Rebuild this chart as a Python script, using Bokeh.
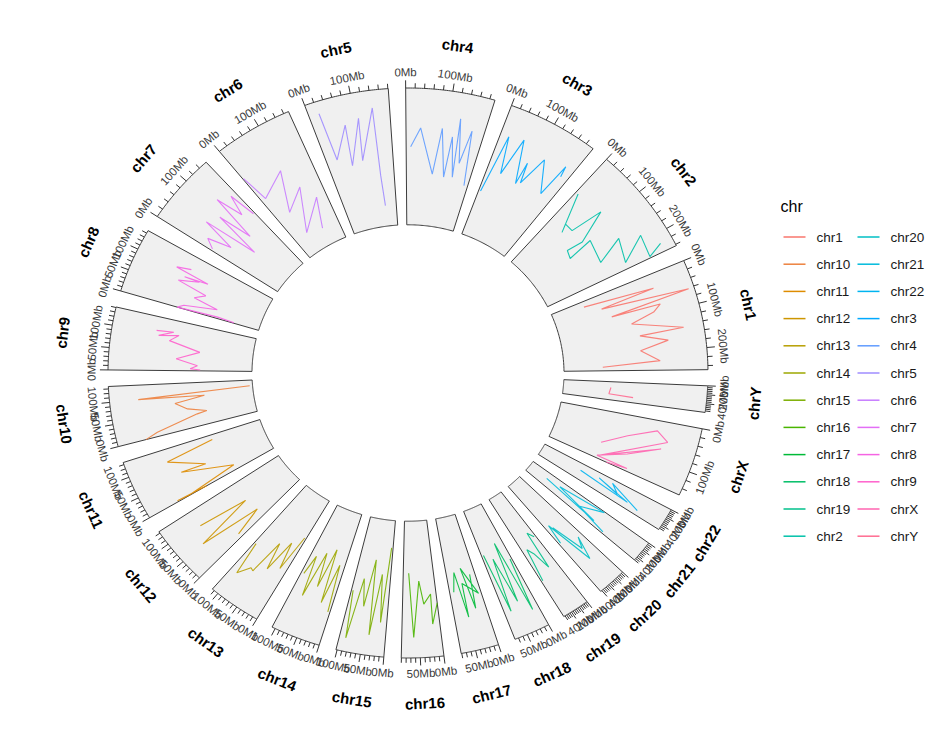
import math
from bokeh.plotting import figure
from bokeh.models import Range1d
from bokeh.core.properties import value
from bokeh.embed import file_html
from bokeh.resources import INLINE

# ---------------- data ----------------
chroms = ["chr1", "chr2", "chr3", "chr4", "chr5", "chr6", "chr7", "chr8", "chr9", "chr10",
          "chr11", "chr12", "chr13", "chr14", "chr15", "chr16", "chr17", "chr18", "chr19",
          "chr20", "chr21", "chr22", "chrX", "chrY"]
chrom_len_mb = [249.25, 243.20, 198.02, 191.15, 180.92, 171.12, 159.14, 146.36, 141.21, 135.53,
                135.01, 133.85, 115.17, 107.35, 102.53, 90.35, 81.20, 78.08, 59.13,
                63.03, 48.13, 51.30, 155.27, 59.37]
legend_levels = ["chr1", "chr10", "chr11", "chr12", "chr13", "chr14", "chr15", "chr16", "chr17",
                 "chr18", "chr19", "chr2", "chr20", "chr21", "chr22", "chr3", "chr4", "chr5",
                 "chr6", "chr7", "chr8", "chr9", "chrX", "chrY"]

chr1_pos = [19, 36, 45, 63, 78, 79, 95, 113, 147, 151, 173, 193, 224, 237]
chr1_score = [0.23, 0.73, 0.34, 0.96, 0.39, 0.74, 0.68, 0.51, 0.86, 0.55, 0.74, 0.54, 0.67, 0.27]
chr2_pos = [7, 52, 41, 68, 80, 113, 106, 132, 123, 193, 162, 226, 184, 240, 223]
chr2_score = [0.68, 0.40, 0.46, 0.46, 0.70, 0.46, 0.34, 0.32, 0.51, 0.48, 0.68, 0.63, 0.82, 0.80, 0.91]
chr3_pos = [6, 21, 40, 57, 90, 91, 101, 123, 165, 175, 180]
chr3_score = [0.34, 0.78, 0.51, 0.80, 0.49, 0.66, 0.51, 0.74, 0.52, 0.78, 0.70]
chr4_pos = [12, 36, 78, 89, 113, 117, 139, 128, 149, 161, 180]
chr4_score = [0.57, 0.71, 0.38, 0.72, 0.37, 0.67, 0.38, 0.81, 0.49, 0.74, 0.34]
chr5_pos = [23, 29, 73, 65, 107, 96, 142, 140, 142]
chr5_score = [0.91, 0.55, 0.78, 0.48, 0.81, 0.50, 0.87, 0.37, 0.15]
chr6_pos = [2, 13, 89, 44, 111, 50, 140, 107]
chr6_score = [0.74, 0.53, 0.64, 0.35, 0.47, 0.16, 0.35, 0.13]
chr7_pos = [5, 22, 38, 55, 70, 86, 100, 115, 130, 145, 155]
chr7_score = [0.55, 0.62, 0.45, 0.70, 0.30, 0.65, 0.40, 0.75, 0.55, 0.70, 0.50]
chr8_pos = [110, 100, 92, 85, 87, 70, 57, 40, 28, 10, 0, 5, 2]
chr8_score = [0.60, 0.70, 0.45, 0.62, 0.51, 0.65, 0.43, 0.50, 0.32, 0.55, 0.59, 0.30, 0.18]
chr9_pos = [105, 108, 93, 101, 83, 59, 34, 16, 6, 3]
chr9_score = [0.69, 0.57, 0.67, 0.53, 0.59, 0.37, 0.53, 0.38, 0.43, 0.36]
chr10_pos = [112, 100, 93, 79, 58, 43, 38, 11, 0]
chr10_score = [0.02, 0.80, 0.34, 0.55, 0.47, 0.34, 0.41, 0.71, 0.80]
chr11_pos = [120, 102, 58, 64, 17, 1, 3, 0]
chr11_score = [0.36, 0.71, 0.47, 0.65, 0.30, 0.68, 0.77, 0.54]
chr12_pos = [91, 71, 52, 27, 11]
chr12_score = [0.74, 0.38, 0.81, 0.36, 0.58]
chr13_pos = [5, 18, 30, 45, 58, 71, 79, 98, 110]
chr13_score = [0.32, 0.60, 0.40, 0.65, 0.45, 0.72, 0.71, 0.80, 0.55]
chr14_pos = [5, 15, 28, 40, 52, 65, 78, 90, 100]
chr14_score = [0.75, 0.40, 0.70, 0.30, 0.60, 0.35, 0.70, 0.40, 0.55]
chr15_pos = [5, 15, 25, 38, 50, 62, 75, 88, 98]
chr15_score = [0.20, 0.75, 0.40, 0.85, 0.30, 0.65, 0.45, 0.90, 0.55]
chr16_pos = [74, 63, 45, 35, 15, 17, 0]
chr16_score = [0.38, 0.85, 0.44, 0.61, 0.54, 0.76, 0.61]
chr17_pos = [70, 58, 47, 43, 7, 37, 25, 15]
chr17_score = [0.55, 0.41, 0.75, 0.50, 0.60, 0.39, 0.70, 0.45]
chr18_pos = [5, 15, 25, 38, 50, 62, 72]
chr18_score = [0.45, 0.85, 0.30, 0.75, 0.40, 0.80, 0.35]
chr19_pos = [5, 16, 23, 35, 45, 55]
chr19_score = [0.40, 0.35, 0.64, 0.50, 0.45, 0.70]
chr20_pos = [45, 26, 12, 30, 50, 58]
chr20_score = [0.43, 0.68, 0.60, 0.77, 0.40, 0.55]
chr21_pos = [22, 36, 18, 2, 30, 44]
chr21_score = [0.15, 0.60, 0.26, 0.62, 0.45, 0.70]
chr22_pos = [22, 35, 15, 30, 10, 40]
chr22_score = [0.31, 0.71, 0.45, 0.62, 0.55, 0.80]
chrX_pos = [104, 60, 27, 49, 143, 69, 110, 147, 148, 155]
chrX_score = [0.35, 0.51, 0.70, 0.79, 0.38, 0.76, 0.55, 0.36, 0.59, 0.44]
chrY_pos = [19, 40, 44]
chrY_score = [0.33, 0.32, 0.49]

series = {
    "chr1": (chr1_pos, chr1_score), "chr2": (chr2_pos, chr2_score), "chr3": (chr3_pos, chr3_score),
    "chr4": (chr4_pos, chr4_score), "chr5": (chr5_pos, chr5_score), "chr6": (chr6_pos, chr6_score),
    "chr7": (chr7_pos, chr7_score), "chr8": (chr8_pos, chr8_score), "chr9": (chr9_pos, chr9_score),
    "chr10": (chr10_pos, chr10_score), "chr11": (chr11_pos, chr11_score), "chr12": (chr12_pos, chr12_score),
    "chr13": (chr13_pos, chr13_score), "chr14": (chr14_pos, chr14_score), "chr15": (chr15_pos, chr15_score),
    "chr16": (chr16_pos, chr16_score), "chr17": (chr17_pos, chr17_score), "chr18": (chr18_pos, chr18_score),
    "chr19": (chr19_pos, chr19_score), "chr20": (chr20_pos, chr20_score), "chr21": (chr21_pos, chr21_score),
    "chr22": (chr22_pos, chr22_score), "chrX": (chrX_pos, chrX_score), "chrY": (chrY_pos, chrY_score),
}

# ---------------- layout ----------------
DEG_PER_MB = 0.0905
GAP_DEG = 3.33
START_DEG = 0.67
R_IN, R_OUT = 0.52, 1.0
FONT = "Liberation Sans"
W, H = 926, 714
CX, CY, SX, SY = 407.5, 372.5, 300.0, 285.0   # circle centre / unit size in pixels


def hcl_hex(h, c=100.0, l=65.0):
    hr = math.radians(h)
    U, V = c * math.cos(hr), c * math.sin(hr)
    Y = 100.0 * (((l + 16) / 116) ** 3 if l > 7.999592 else l / 903.3)
    u = U / (13 * l) + 0.1978398
    v = V / (13 * l) + 0.4683363
    X = 9.0 * Y * u / (4 * v)
    Z = -X / 3 - 5 * Y + 3 * Y / v

    def g(t):
        t = t / 100.0
        t = 1.055 * t ** (1 / 2.4) - 0.055 if t > 0.00304 else 12.92 * t
        return int(round(255 * min(1.0, max(0.0, t))))
    r = g(3.240479 * X - 1.537150 * Y - 0.498535 * Z)
    gg = g(-0.969256 * X + 1.875992 * Y + 0.041556 * Z)
    b = g(0.055648 * X - 0.204043 * Y + 1.057311 * Z)
    return "#%02X%02X%02X" % (r, gg, b)


n = len(legend_levels)
palette = {lev: hcl_hex(15 + i * (345.0 / (n - 1))) for i, lev in enumerate(legend_levels)}

theta0 = []
cum = 0.0
for i, L in enumerate(chrom_len_mb):
    end = START_DEG + cum * DEG_PER_MB + i * GAP_DEG
    theta0.append(end + L * DEG_PER_MB)
    cum += L


def theta(ci, pos):
    return theta0[ci] - pos * DEG_PER_MB


def xy(ang_deg, r):
    a = math.radians(ang_deg)
    return r * math.cos(a), r * math.sin(a)


def text_rot(ang_deg):
    a = ang_deg % 360
    return math.radians(a - 90 if a < 180 else a - 270)


p = figure(width=W, height=H, output_backend="svg", toolbar_location=None,
           x_range=Range1d(-CX / SX, (W - CX) / SX), y_range=Range1d((CY - H) / SY, CY / SY),
           x_axis_location=None, y_axis_location=None, min_border=0)
p.grid.visible = False
p.outline_line_color = None
p.background_fill_color = "white"

# sector backgrounds
pxs, pys = [], []
for ci, L in enumerate(chrom_len_mb):
    steps = 40
    outer = [xy(theta(ci, L * k / steps), R_OUT) for k in range(steps + 1)]
    inner = [xy(theta(ci, L * k / steps), R_IN) for k in range(steps, -1, -1)]
    pts = outer + inner + [outer[0]]
    pxs.append([q[0] for q in pts])
    pys.append([q[1] for q in pts])
p.patches(pxs, pys, fill_color="#F0F0F0", line_color="#3C3C3C", line_width=1)

# data lines
lxs, lys, lcols = [], [], []
for ci, ch in enumerate(chroms):
    ps, sc = series[ch]
    pts = [xy(theta(ci, q), R_IN + s * (R_OUT - R_IN)) for q, s in zip(ps, sc)]
    lxs.append([q[0] for q in pts])
    lys.append([q[1] for q in pts])
    lcols.append(palette[ch])
p.multi_line(lxs, lys, line_color=lcols, line_width=1.1, line_alpha=0.9)

# scale ticks and labels
tx0, ty0, tx1, ty1 = [], [], [], []
lab_x, lab_y, lab_t, lab_a = [], [], [], []
for ci, L in enumerate(chrom_len_mb):
    major = 100 if L >= 150 else (50 if L >= 65 else 20)
    minor = major / 5.0
    t = 0.0
    while t <= L + 1e-6:
        is_major = abs(t / major - round(t / major)) < 1e-6
        a = theta(ci, t)
        x0, y0 = xy(a, R_OUT)
        x1, y1 = xy(a, R_OUT + (0.027 if is_major else 0.017))
        tx0.append(x0); ty0.append(y0); tx1.append(x1); ty1.append(y1)
        if is_major:
            lx, ly = xy(a, 1.055)
            lab_x.append(lx); lab_y.append(ly)
            lab_t.append("%dMb" % int(round(t)))
            lab_a.append(text_rot(a))
        t += minor
p.segment(tx0, ty0, tx1, ty1, line_color="#333333", line_width=1)
p.text(x=lab_x, y=lab_y, text=lab_t, angle=lab_a, text_align="center", text_baseline="middle",
       text_font=value(FONT), text_font_size=value("11.5px"), text_color="#3A3A3A")

# chromosome names
cx, cy, ct, ca = [], [], [], []
for ci, ch in enumerate(chroms):
    a = theta(ci, chrom_len_mb[ci] / 2.0)
    x, y = xy(a, 1.16)
    cx.append(x); cy.append(y); ct.append(ch); ca.append(text_rot(a))
p.text(x=cx, y=cy, text=ct, angle=ca, text_align="center", text_baseline="middle",
       text_font=value(FONT), text_font_size=value("15px"), text_font_style="bold", text_color="black")


# legend (two columns, column-major)
def px2x(px):
    return (px - CX) / SX


def py2y(py):
    return (CY - py) / SY


p.text(x=[px2x(780)], y=[py2y(206)], text=["chr"], text_align="left", text_baseline="middle",
       text_font=value(FONT), text_font_size=value("16px"), text_color="black")
kx0, ky, kx1, kc, gx, gy, gt = [], [], [], [], [], [], []
rows = 12
col_key = [783, 857]
col_txt = [816, 890]
for i, lev in enumerate(legend_levels):
    col, row = divmod(i, rows)
    yy = py2y(236.5 + 27.2 * row)
    kx0.append(px2x(col_key[col])); kx1.append(px2x(col_key[col] + 22)); ky.append(yy)
    kc.append(palette[lev])
    gx.append(px2x(col_txt[col])); gy.append(yy); gt.append(lev)
p.segment(kx0, ky, kx1, ky, line_color=kc, line_width=1.5)
p.text(x=gx, y=gy, text=gt, text_align="left", text_baseline="middle",
       text_font=value(FONT), text_font_size=value("13.5px"), text_color="#1A1A1A")

open("out.html", "w").write(file_html(p, INLINE))
